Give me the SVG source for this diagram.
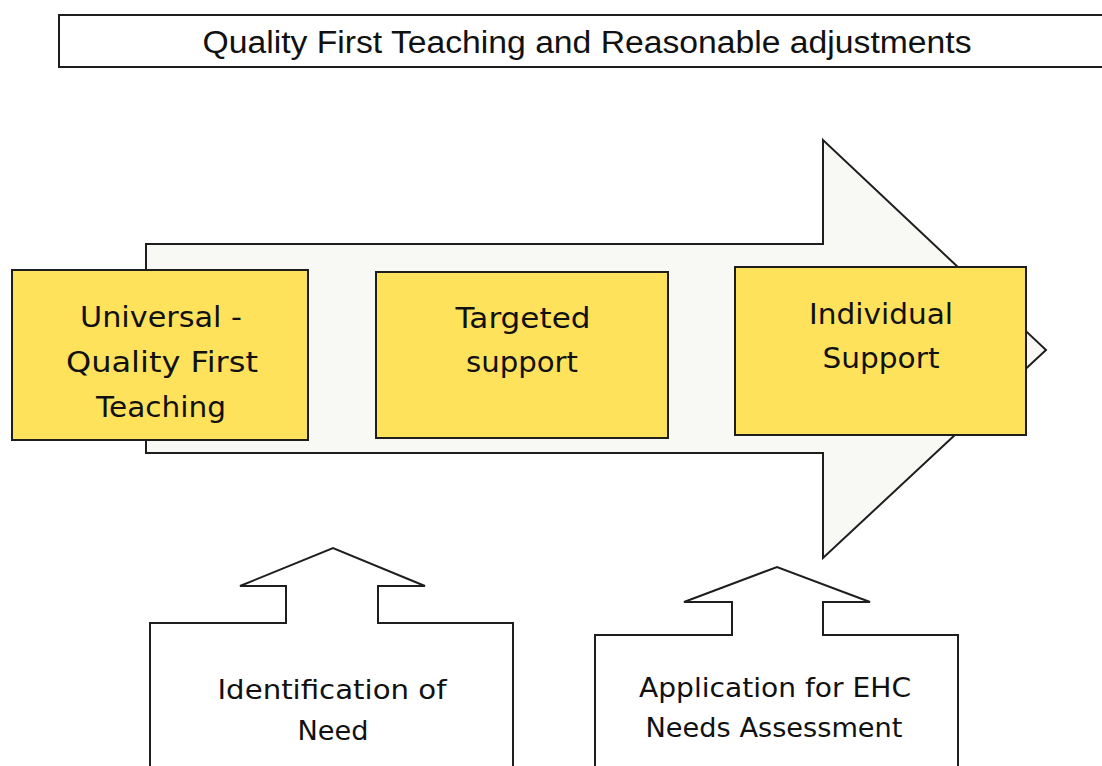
<svg xmlns="http://www.w3.org/2000/svg" width="1102" height="766" viewBox="0 0 1102 766">
<style>
.ln{stroke:#1e1e1e;stroke-width:2;stroke-linejoin:miter}
.yb{fill:#fee25c;stroke:#1e1e1e;stroke-width:2}
.t{font-family:"DejaVu Sans","Noto Sans",sans-serif;fill:#111;text-anchor:middle}
.big{font-size:29px}
.sm{font-size:26px}
.ttl{font-family:"Liberation Sans",Arial,sans-serif;font-size:31px;fill:#111;text-anchor:middle}
</style>
<rect width="1102" height="766" fill="#ffffff"/>
<g id="title">
<rect x="59" y="15" width="1060" height="52" fill="#ffffff" class="ln"/>
<text class="ttl" x="587" y="53" textLength="769" lengthAdjust="spacingAndGlyphs">Quality First Teaching and Reasonable adjustments</text>
</g>
<g id="connectors">
<path class="ln" fill="#f8f8f4" d="M146,244 L823,244 L823,140 L1046,350 L823,558 L823,453 L146,453 Z"/>
</g>
<g id="node-universal">
<rect class="yb" x="12" y="270" width="296" height="170"/>
<text class="t big" x="161" y="327" textLength="162" lengthAdjust="spacingAndGlyphs">Universal -</text>
<text class="t big" x="162" y="372" textLength="192" lengthAdjust="spacingAndGlyphs">Quality First</text>
<text class="t big" x="161" y="417" textLength="130" lengthAdjust="spacingAndGlyphs">Teaching</text>
</g>
<g id="node-targeted">
<rect class="yb" x="376" y="272" width="292" height="166"/>
<text class="t big" x="523" y="328" textLength="135" lengthAdjust="spacingAndGlyphs">Targeted</text>
<text class="t big" x="522" y="372" textLength="112" lengthAdjust="spacingAndGlyphs">support</text>
</g>
<g id="node-individual">
<rect class="yb" x="735" y="267" width="291" height="168"/>
<text class="t big" x="881" y="324" textLength="144" lengthAdjust="spacingAndGlyphs">Individual</text>
<text class="t big" x="881" y="368" textLength="117" lengthAdjust="spacingAndGlyphs">Support</text>
</g>
<g id="node-identification">
<path class="ln" fill="#ffffff" d="M150,770 L150,623 L286,623 L286,586 L240,586 L333,548 L425,586 L378,586 L378,623 L513,623 L513,770"/>
<text class="t sm" x="332" y="699" textLength="229" lengthAdjust="spacingAndGlyphs">Identification of</text>
<text class="t sm" x="333" y="740" textLength="71" lengthAdjust="spacingAndGlyphs">Need</text>
</g>
<g id="node-application">
<path class="ln" fill="#ffffff" d="M595,770 L595,635 L732,635 L732,602 L684,602 L777,567 L870,602 L823,602 L823,635 L958,635 L958,770"/>
<text class="t sm" x="775" y="697" textLength="272" lengthAdjust="spacingAndGlyphs">Application for EHC</text>
<text class="t sm" x="774" y="737" textLength="257" lengthAdjust="spacingAndGlyphs">Needs Assessment</text>
</g>
</svg>
